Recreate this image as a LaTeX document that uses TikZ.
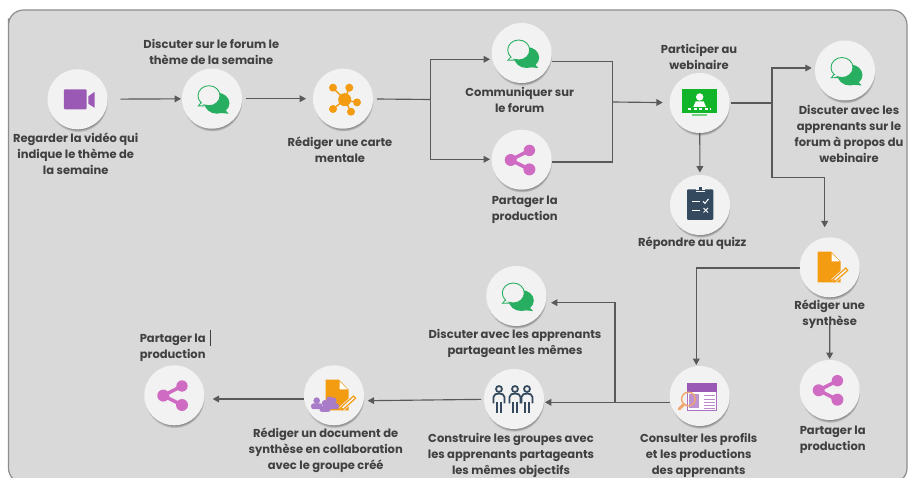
\documentclass[tikz,border=0pt]{standalone}
\usepackage{fontspec}
\setmainfont{Poppins}
\usetikzlibrary{arrows.meta,shadows}
\definecolor{panelgray}{HTML}{D9D9D9}
\definecolor{panelline}{HTML}{8E8E8E}
\definecolor{bubblegray}{HTML}{F2F2F2}
\definecolor{flowgray}{HTML}{595959}
\definecolor{textgray}{HTML}{404040}
\definecolor{chatgreen}{HTML}{27AE60}
\definecolor{videopurple}{HTML}{9B59B6}
\definecolor{sharepink}{HTML}{CF6BC2}
\definecolor{mindorange}{HTML}{F39C12}
\definecolor{screengreen}{HTML}{12B52A}
\definecolor{navy}{HTML}{34495E}
\definecolor{lenspeach}{HTML}{F0A46E}
\definecolor{peoplepurple}{HTML}{A97CC9}
\tikzset{
  bubble/.style={circle,fill=bubblegray,minimum size=1.2cm,inner sep=0pt,outer sep=0pt,
    circular drop shadow={shadow xshift=0.2pt,shadow yshift=-1.6pt,shadow scale=1.0,opacity=0.75,fill=black!75}},
  caption/.style={text=textgray,align=center,font=\fontsize{6.55pt}{9.1pt}\selectfont\bfseries,inner sep=0pt},
  flow/.style={draw=flowgray,line width=0.65pt,-{Triangle[length=3.6pt,width=3.8pt]}},
  flowplain/.style={draw=flowgray,line width=0.65pt},
  every pic/.style={scale=0.2},
  pics/videoicon/.style={code={
    \fill [videopurple,rounded corners=0.5pt] (-1.35,1) rectangle (0.9,-1);
    \fill [videopurple] (1.08,0.3) -- (1.72,0.75) -- (1.72,-0.85) -- (1.08,-0.45) -- cycle;
  }},
  pics/chaticon/.style={code={
    \fill [chatgreen] (0.5,-0.45) ellipse (1.25 and 1.05);
    \fill [chatgreen] (1.1,-0.9) -- (1.67,-1.5) -- (0.6,-1.4) -- cycle;
    \filldraw [draw=chatgreen,fill=bubblegray,line width=0.5pt] (-1.05,-0.35) -- (-1.37,-0.73) -- (-0.5,-0.7) -- cycle;
    \filldraw [draw=chatgreen,fill=bubblegray,line width=0.5pt] (-0.3,0.3) ellipse (1.1 and 1.0);
    \fill [bubblegray] (-0.95,-0.4) -- (-1.15,-0.6) -- (-0.55,-0.55) -- (-0.5,-0.3) -- cycle;
  }},
  pics/shareicon/.style={code={
    \draw [sharepink,line width=2pt] (0.77,0.93) -- (-1.1,-0.03) -- (0.77,-0.97);
    \fill [sharepink] (0.77,0.93) circle (0.57);
    \fill [sharepink] (-1.1,-0.03) circle (0.6);
    \fill [sharepink] (0.77,-0.97) circle (0.6);
  }},
  pics/mindicon/.style={code={
    \draw [mindorange,line width=0.8pt] (-1,1.1) -- (0.17,-0.1) -- (0.63,1.1);
    \draw [mindorange,line width=0.8pt] (1.4,-0.37) -- (0.17,-0.1) -- (0.8,-1.3);
    \draw [mindorange,line width=0.8pt] (-1,-1.03) -- (0.17,-0.1);
    \fill [mindorange] (0.17,-0.1) circle (0.65);
    \fill [mindorange] (-1,1.1) circle (0.4);
    \fill [mindorange] (0.63,1.1) circle (0.4);
    \fill [mindorange] (1.4,-0.37) circle (0.4);
    \fill [mindorange] (0.8,-1.3) circle (0.4);
    \fill [mindorange] (-1,-1.03) circle (0.4);
  }},
  pics/webinaricon/.style={code={
    \fill [screengreen] (-1.73,1.37) rectangle (1.7,-1);
    \fill [screengreen!60] (-0.8,-1.15) rectangle (0.77,-1.27);
    \fill [white] (0,0.6) circle (0.37);
    \fill [white] (-0.65,-0.4) -- (-0.4,0.15) -- (0.4,0.15) -- (0.65,-0.4) -- cycle;
    \fill [white] (-1.15,-0.55) rectangle (-0.85,-0.72);
    \fill [white] (-0.6,-0.55) rectangle (-0.3,-0.72);
    \fill [white] (-0.05,-0.55) rectangle (0.25,-0.72);
    \fill [white] (0.5,-0.55) rectangle (0.8,-0.72);
    \fill [white] (1.0,-0.55) rectangle (1.1,-0.72);
  }},
  pics/quizicon/.style={code={
    \fill [navy,rounded corners=0.6pt] (-1.3,1.57) rectangle (1.33,-1.5);
    \fill [bubblegray] (-0.42,1.6) rectangle (0.5,1.3);
    \fill [navy] (-0.1,1.77) rectangle (0.2,1.5);
    \fill [navy] (-0.4,1.5) rectangle (0.47,1.38);
    \draw [white,line width=0.6pt] (-0.8,0.37) -- (0,0.37);
    \draw [white,line width=0.6pt] (-0.8,-0.53) -- (0,-0.53);
    \draw [white,line width=0.6pt] (0.3,0.37) -- (0.5,0.17) -- (0.85,0.6);
    \draw [white,line width=0.6pt] (0.35,-0.3) -- (0.8,-0.75);
    \draw [white,line width=0.6pt] (0.35,-0.75) -- (0.8,-0.3);
  }},
  pics/docicon/.style={code={
    \fill [mindorange] (-1.2,1.57) -- (0.13,1.57) -- (1.1,0.57) -- (1.1,-1.5) -- (-1.2,-1.5) -- cycle;
    \fill [white] (0.2,1.4) -- (1,0.6) -- (0.2,0.6) -- cycle;
    \draw [bubblegray,line width=3.2pt] (0.35,-1.4) -- (1.75,-0.15);
    \draw [mindorange,line width=2.4pt] (0.35,-1.4) -- (1.75,-0.15);
    \draw [bubblegray,line width=0.9pt] (0.5,-1.26) -- (1.65,-0.24);
  }},
  pics/personicon/.style={code={
    \fill [peoplepurple] (0,0.3) circle (0.33);
    \fill [peoplepurple,rounded corners=1.2pt] (-0.55,-0.55) rectangle (0.55,0.02);
  }},
  pics/figureicon/.style={code={
    \draw [navy,line width=1pt] (0,1) circle (0.3);
    \draw [navy,line width=1pt] (-0.55,-0.45) -- (-0.55,0.2) to [out=90,in=180] (0,0.55) to [out=0,in=90] (0.55,0.2) -- (0.55,-0.45);
    \draw [navy,line width=1.1pt] (-0.2,-0.3) -- (-0.2,-1.35);
    \draw [navy,line width=1.1pt] (0.2,-0.3) -- (0.2,-1.35);
  }},
  pics/profileicon/.style={code={
    \fill [white] (-1.23,1.27) rectangle (1.7,-1.4);
    \draw [videopurple!85,line width=0.55pt] (-1.23,1.27) rectangle (1.7,-1.4);
    \fill [videopurple] (-1.23,1.27) rectangle (1.7,0.45);
    \fill [videopurple!65] (-1.1,0.2) rectangle (-0.1,-1.2);
    \draw [videopurple!70,line width=0.55pt] (0.4,0.05) -- (1.55,0.05);
    \draw [videopurple!70,line width=0.55pt] (0.4,-0.3) -- (1.55,-0.3);
    \draw [videopurple!70,line width=0.55pt] (0.4,-0.62) -- (1.55,-0.62);
    \draw [videopurple!70,line width=0.55pt] (0.4,-0.95) -- (1.55,-0.95);
    \draw [videopurple!70,line width=0.55pt] (0.4,-1.22) -- (1.55,-1.22);
    \draw [lenspeach,line width=0.8pt] (-1.13,-0.3) circle (0.68);
    \draw [lenspeach,line width=1.6pt,line cap=round] (-1.6,-0.85) -- (-2.05,-1.3);
  }}
}
\begin{document}
\begin{tikzpicture}[scale=0.2]
\useasboundingbox (0,0) rectangle (90.8,-47.7);
\clip (0,0) rectangle (90.8,-47.7);
\fill [white] (0,0) rectangle (90.8,-47.7);
\draw [panelline,fill=panelgray,line width=0.7pt,rounded corners=0.3cm] (0.85,-3.35) -- (0.85,-48.3) -- (90.7,-48.3) -- (90.7,-1) -- (0.85,-1) -- cycle;
% first row
\node [bubble] (video) at (7.75,-9.93) {};
\node [bubble] (forumtheme) at (21.2,-9.87) {};
\node [bubble] (carte) at (34.3,-9.87) {};
\node [bubble] (forumcom) at (52.17,-5.3) {};
\node [bubble] (sharecom) at (52.17,-15.97) {};
\node [bubble] (webinar) at (69.97,-10.3) {};
\node [bubble] (forumweb) at (84.5,-7.05) {};
\node [bubble] (quiz) at (70,-20.5) {};
% second row
\node [bubble] (synth) at (82.97,-26.73) {};
\node [bubble] (sharesynth) at (82.97,-39) {};
\node [bubble] (profils) at (69.97,-39.6) {};
\node [bubble] (forumgroup) at (51.63,-29.6) {};
\node [bubble] (groupes) at (51.4,-39.9) {};
\node [bubble] (docgroup) at (33.4,-39.53) {};
\node [bubble] (sharegroup) at (17.43,-39.53) {};
% icons
\pic at (video) {videoicon};
\pic at (forumtheme) {chaticon};
\pic at (carte) {mindicon};
\pic at (forumcom) {chaticon};
\pic at (sharecom) {shareicon};
\pic at (webinar) {webinaricon};
\pic at (forumweb) {chaticon};
\pic at (quiz) {quizicon};
\pic at (synth) {docicon};
\pic at (sharesynth) {shareicon};
\pic at (profils) {profileicon};
\pic at (forumgroup) {chaticon};
\pic [xshift=-0.3cm] at (groupes) {figureicon};
\pic [xshift=0.02cm] at (groupes) {figureicon};
\pic [xshift=0.26cm] at (groupes) {figureicon};
\pic [xshift=0.07cm] at (docgroup) {docicon};
\pic [xshift=-0.346cm,yshift=-0.166cm] at (docgroup) {personicon};
\pic [xshift=-0.014cm,yshift=-0.166cm] at (docgroup) {personicon};
\pic [xshift=-0.09cm,yshift=-0.15cm] at (docgroup) {personicon};
\pic [xshift=-0.18cm,yshift=-0.22cm] at (docgroup) {personicon};
\pic at (sharegroup) {shareicon};
% captions
\node [caption] (videotext) at (7.57,-15.35) {Regarder la vidéo qui\\indique le thème de\\la semaine};
\node [caption] (forumthemetext) at (21.13,-5.22) {Discuter sur le forum le\\thème de la semaine};
\node [caption] (cartetext) at (34,-15) {Rédiger une carte\\mentale};
\node [caption] (forumcomtext) at (51.97,-10.02) {Communiquer sur\\le forum};
\node [caption] (sharecomtext) at (52.47,-21) {Partager la\\production};
\node [caption] (webinartext) at (69.9,-5.72) {Participer au\\webinaire};
\node [caption] (forumwebtext) at (84.9,-13.4) {Discuter avec les\\apprenants sur le\\forum à propos du\\webinaire};
\node [caption] (quiztext) at (69.23,-24.33) {Répondre au quizz};
\node [caption] (synthtext) at (82.97,-31.42) {Rédiger une\\synthèse};
\node [caption] (sharesynthtext) at (83.27,-44) {Partager la\\production};
\node [caption] (profilstext) at (69.87,-45.57) {Consulter les profils\\et les productions\\des apprenants};
\node [caption] (forumgrouptext) at (51.5,-34.37) {Discuter avec les apprenants\\partageant les mêmes};
\node [caption] (groupestext) at (51.1,-45.5) {Construire les groupes avec\\les apprenants partageants\\les mêmes objectifs};
\node [caption] (docgrouptext) at (32.57,-45.07) {Rédiger un document de\\synthèse en collaboration\\avec le groupe créé};
\node [caption] (sharegrouptext) at (17.27,-34.73) {Partager la\\production};
% stray caret beside the caption
\coordinate (caret) at (21,-33);
\draw [textgray,line width=0.5pt] (caret) -- ++(0,-1.6);
% junctions and entry points
\coordinate (splitcarte) at (43.07,-9.95);
\coordinate (mergeforum) at (61.23,-10.2);
\coordinate (splitweb) at (77.2,-10.3);
\coordinate (entrycom) at (49,-5.93);
\coordinate (entryshare) at (49,-15.93);
\coordinate (outcom) at (61.23,-6.17);
\coordinate (outshare) at (61.23,-16.2);
\coordinate (entryweb) at (81.17,-6.8);
\coordinate (elbowsynth) at (82.47,-17.77);
\coordinate (entrysynth) at (82.47,-22.73);
\coordinate (entryprofils) at (69.63,-36.5);
\coordinate (outsynth) at (69.63,-26.8);
\coordinate (splitprofils) at (61.5,-40.23);
\coordinate (entrygroup) at (55.1,-30.27);
\coordinate (entrydoc) at (36.77,-40.07);
\coordinate (entrysharegroup) at (21.27,-39.9);
% connectors
\draw [flow,shorten <=0.26cm,shorten >=0.02cm] (video) -- (forumtheme);
\draw [flow,shorten <=0.08cm,shorten >=0.14cm] (forumtheme) -- (carte);
\draw [flowplain,shorten <=0.08cm] (carte) -- (splitcarte);
\draw [flow] (splitcarte) |- (entrycom);
\draw [flow] (splitcarte) |- (entryshare);
\draw [flowplain] (forumcom.east |- outcom) -- (outcom) -- (outshare) -- (sharecom.east |- outshare);
\draw [flow,shorten >=0.14cm] (mergeforum) -- (webinar);
\draw [flowplain,shorten <=0.02cm] (webinar) -- (splitweb);
\draw [flow] (splitweb) |- (entryweb);
\draw [flow] (splitweb) |- (elbowsynth) -- (entrysynth);
\draw [flow,shorten >=0.05cm] (webinar) -- (quiz);
\draw [flow] (synth.west |- outsynth) -| (entryprofils);
\draw [flow,shorten <=-0.12cm,shorten >=0.02cm] (synthtext.south) -- (sharesynth);
\draw [flow,shorten >=0.02cm] (profils.west |- splitprofils) -- (groupes.east |- splitprofils);
\draw [flow] (splitprofils) |- (entrygroup);
\draw [flow,shorten <=0.06cm] (groupes) -- (entrydoc);
\draw [flow] (docgroup.west |- entrysharegroup) -- (entrysharegroup);
\end{tikzpicture}
\end{document}
